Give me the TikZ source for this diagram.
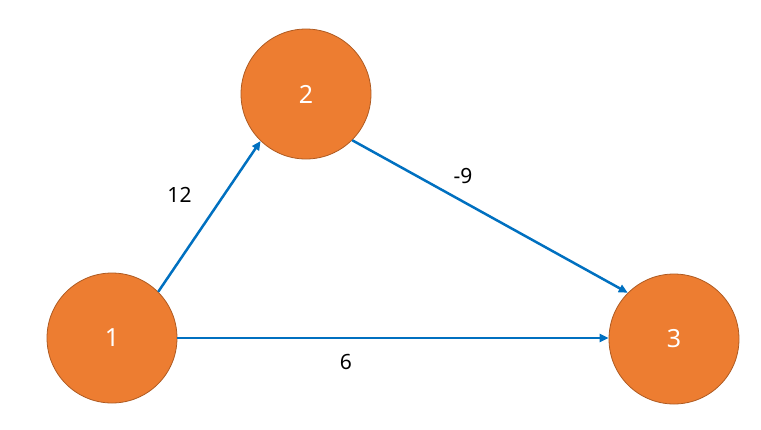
\documentclass[tikz,border=0pt]{standalone}
\usepackage{fontspec}
\setmainfont{Noto Sans}
\usetikzlibrary{arrows.meta}
\definecolor{nodefill}{HTML}{ED7D31}
\definecolor{nodeline}{HTML}{AE5A21}
\definecolor{edgeblue}{HTML}{0070C0}
\begin{document}
\begin{tikzpicture}[x=1pt,y=-1pt,
  vertex/.style={circle,fill=nodefill,draw=nodeline,line width=0.8pt,minimum size=130pt,inner sep=0pt,text=white,font=\fontsize{25}{29}\selectfont},
  edge/.style={draw=edgeblue,line width=2.5pt,-{Triangle[length=9pt,width=8pt]}},
  wlabel/.style={font=\fontsize{21}{25}\selectfont,text=black,inner sep=0pt}]
\useasboundingbox (0,0) rectangle (761,429);
\node[vertex] (n1) at (112,338) {1};
\node[vertex] (n2) at (306,94) {2};
\node[vertex] (n3) at (674,339) {3};
\draw[edge] (n1.45) -- (n2.-134);
\draw[edge] (n2.-45) -- (n3.135);
\draw[edge] (n1.east |- 0,338) -- (n3.west |- 0,338);
\node[wlabel] (l12) at (179.5,195) {12};
\node[wlabel] (l9) at (463,176) {-9};
\node[wlabel] (l6) at (346,362) {6};
\end{tikzpicture}
\end{document}
